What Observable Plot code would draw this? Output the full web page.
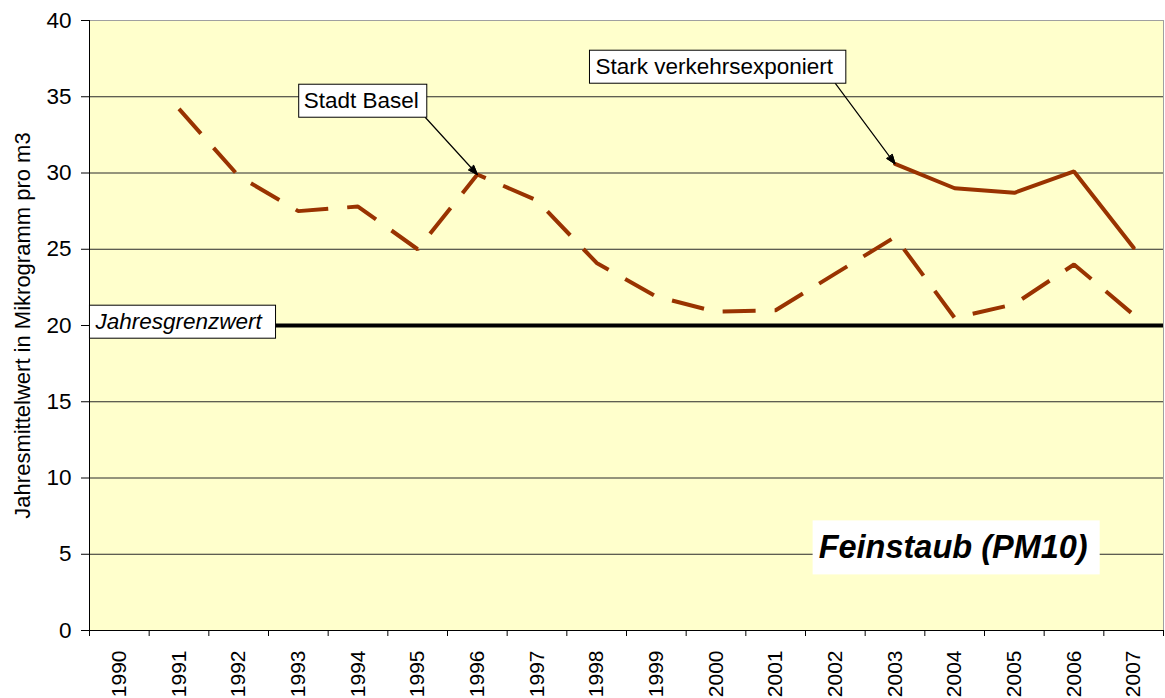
<!DOCTYPE html>
<html>
<head>
<meta charset="utf-8">
<script src="https://cdn.jsdelivr.net/npm/d3@7"></script>
<script src="https://cdn.jsdelivr.net/npm/@observablehq/plot@0.6"></script>
<style>
  html, body { margin: 0; padding: 0; background: #fff; }
</style>
</head>
<body>
<div id="chart"></div>
<script>
// ---- Data ----
const years = [1990, 1991, 1992, 1993, 1994, 1995, 1996, 1997, 1998, 1999, 2000, 2001, 2002, 2003, 2004, 2005, 2006, 2007];
const baselYears = [1991, 1992, 1993, 1994, 1995, 1996, 1997, 1998, 1999, 2000, 2001, 2002, 2003, 2004, 2005, 2006, 2007];
const baselValues = [34.2, 29.8, 27.5, 27.8, 25.0, 29.9, 28.2, 24.1, 21.9, 20.9, 21.0, 23.4, 25.8, 20.5, 21.4, 24.0, 20.7];
const verkehrYears = [2003, 2004, 2005, 2006, 2007];
const verkehrValues = [30.6, 29.0, 28.7, 30.1, 25.1];
const yTicks = [0, 5, 10, 15, 20, 25, 30, 35, 40];
const limitValue = 20;
const yTitle = "Jahresmittelwert in Mikrogramm pro m3";

// annotation labels and their anchors (data coordinates)
const annotationLabels = ["Stadt Basel", "Stark verkehrsexponiert", "Jahresgrenzwert", "Feinstaub (PM10)"];
const annotationX = [1993.09, 1997.98, 1989.6, 2001.72];
const annotationY = [34.72, 36.95, 20.23, 5.41];
// arrows: from label box to series point
const arrowFromX = [1995.13, 2002.0];
const arrowFromY = [33.64, 35.87];
const arrowToX = [1996, 2003];
const arrowToY = [29.9, 30.6];

// ---- Tables built from arrays ----
const basel = baselYears.map((year, i) => ({year, value: baselValues[i]}));
const verkehr = verkehrYears.map((year, i) => ({year, value: verkehrValues[i]}));
const boundaries = d3.range(years.length + 1).map(i => years[0] - 0.5 + i);
const annotations = annotationLabels.map((label, i) => ({label, x: annotationX[i], y: annotationY[i]}));
const arrows = arrowFromX.map((x, i) => ({x1: x, y1: arrowFromY[i], x2: arrowToX[i], y2: arrowToY[i]}));

const brown = "#993300";

const chart = Plot.plot({
  width: 1165,
  height: 698,
  marginLeft: 89,
  marginRight: 2,
  marginTop: 20,
  marginBottom: 68,
  style: {fontFamily: "Arial, 'Liberation Sans', sans-serif", background: "#fff", color: "#000", overflow: "visible"},
  x: {domain: [boundaries[0], boundaries[boundaries.length - 1]], label: null, axis: null},
  y: {domain: [yTicks[0], yTicks[yTicks.length - 1]], label: null, axis: null},
  marks: [
    Plot.frame({fill: "#FFFFCC", stroke: null}),
    Plot.ruleY(yTicks.filter(v => v > yTicks[0] && v < yTicks[yTicks.length - 1]), {stroke: "#2a2a2a", strokeWidth: 1}),
    Plot.ruleY([yTicks[yTicks.length - 1]], {stroke: "#a0a0a0", strokeWidth: 1}),
    Plot.ruleX([boundaries[boundaries.length - 1]], {stroke: "#a0a0a0", strokeWidth: 1}),
    Plot.ruleY([limitValue], {stroke: "#000", strokeWidth: 4}),
    Plot.line(basel, {x: "year", y: "value", stroke: brown, strokeWidth: 4, strokeDasharray: "33,19", strokeLinecap: "butt", strokeLinejoin: "miter"}),
    Plot.line(verkehr, {x: "year", y: "value", stroke: brown, strokeWidth: 4, strokeLinejoin: "miter"}),
    Plot.arrow(arrows, {x1: "x1", y1: "y1", x2: "x2", y2: "y2", stroke: "#000", strokeWidth: 1.2, headLength: 12, headAngle: 40}),
    Plot.ruleX([boundaries[0]], {stroke: "#000", strokeWidth: 1}),
    Plot.ruleY([yTicks[0]], {stroke: "#000", strokeWidth: 1}),
    Plot.axisY(yTicks, {tickSize: 8, tickPadding: 10, fontSize: 22.5, label: null, tickFormat: d => String(d)}),
    Plot.axisX(years, {tickSize: 0, tickPadding: 20, tickRotate: -90, fontSize: 21, label: null, tickFormat: d => String(d)}),
    Plot.axisX(boundaries, {tickSize: 6, label: null, tickFormat: () => ""}),
    Plot.text([yTitle], {frameAnchor: "left", textAnchor: "middle", rotate: -90, dx: -67, fontSize: 22, fill: "#000"}),
    Plot.text(annotations.slice(0, 2), {x: "x", y: "y", text: "label", textAnchor: "start", fontSize: 22.5, fill: "#000"}),
    Plot.text(annotations.slice(2, 3), {x: "x", y: "y", text: "label", textAnchor: "start", fontSize: 22.5, fontStyle: "italic", fill: "#000"}),
    Plot.text(annotations.slice(3, 4), {x: "x", y: "y", text: "label", textAnchor: "start", fontSize: 32.5, fontStyle: "italic", fontWeight: "bold", fill: "#000"})
  ]
});

document.getElementById("chart").appendChild(chart);

const svgNS = "http://www.w3.org/2000/svg";

// fill the arrow heads (turn the open V into a solid triangle)
try {
  chart.querySelectorAll('g[aria-label="arrow"] path').forEach(p => {
    const nums = (p.getAttribute("d") || "").match(/-?\d*\.?\d+(?:e[-+]?\d+)?/gi);
    if (!nums || nums.length < 6) return;
    const n = nums.map(Number).slice(-6);
    const poly = document.createElementNS(svgNS, "polygon");
    poly.setAttribute("points", `${n[0]},${n[1]} ${n[2]},${n[3]} ${n[4]},${n[5]}`);
    poly.setAttribute("fill", "#000");
    poly.setAttribute("stroke", "#000");
    poly.setAttribute("stroke-width", 1);
    const tr = p.getAttribute("transform");
    if (tr) poly.setAttribute("transform", tr);
    p.parentNode.appendChild(poly);
  });
} catch (e) {}

// add boxes behind annotation texts
const boxSpec = {
  "Stadt Basel": {stroke: "#000", l: 5, r: 8, t: 4, b: 4},
  "Stark verkehrsexponiert": {stroke: "#000", l: 6, r: 12, t: 4, b: 4},
  "Jahresgrenzwert": {stroke: "#000", l: 5, r: 12, t: 4, b: 4},
  "Feinstaub (PM10)": {stroke: "none", l: 6, r: 12, t: 9, b: 9}
};
chart.querySelectorAll("text").forEach(t => {
  const spec = boxSpec[t.textContent];
  if (!spec) return;
  const bb = t.getBBox();
  const r = document.createElementNS(svgNS, "rect");
  r.setAttribute("x", bb.x - spec.l);
  r.setAttribute("y", bb.y - spec.t);
  r.setAttribute("width", bb.width + spec.l + spec.r);
  r.setAttribute("height", bb.height + spec.t + spec.b);
  r.setAttribute("fill", "#fff");
  r.setAttribute("stroke", spec.stroke);
  r.setAttribute("stroke-width", 1);
  const tr = t.getAttribute("transform");
  if (tr) r.setAttribute("transform", tr);
  t.parentNode.insertBefore(r, t);
});
</script>
</body>
</html>
